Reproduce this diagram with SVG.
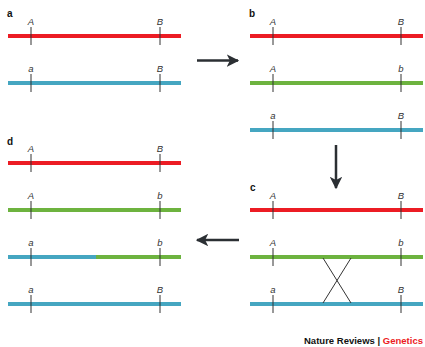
<svg xmlns="http://www.w3.org/2000/svg" width="425" height="347" viewBox="0 0 425 347">
  <style>
    .chr { stroke-width: 4; fill: none; }
    .red { stroke: #ec1c24; }
    .green { stroke: #6db33f; }
    .blue { stroke: #45a6c1; }
    .tick { stroke: #333; stroke-width: 1; }
    .allele { font-family: "Liberation Sans", Arial, sans-serif; font-style: italic; font-size: 9.5px; fill: #333; text-anchor: middle; }
    .panel { font-family: "Liberation Sans", Arial, sans-serif; font-weight: bold; font-size: 10px; fill: #111; }
    .arrow { stroke: #2b2f33; stroke-width: 2.5; fill: none; }
    .credit { font-family: "Liberation Sans", Arial, sans-serif; font-weight: bold; font-size: 9.5px; }
  </style>
  <defs>
    <marker id="head" viewBox="0 0 10 10" refX="9" refY="5" markerWidth="5" markerHeight="5" markerUnits="strokeWidth" orient="auto">
      <path d="M0,0 L10,5 L0,10 L2.5,5 Z" fill="#2b2f33"/>
    </marker>
  </defs>

  <!-- panel a -->
  <g id="panel-a">
    <text class="panel" x="7" y="17">a</text>
    <g id="a-chr1">
      <line class="chr red" x1="8" y1="36" x2="181" y2="36"/>
      <line class="tick" x1="31" y1="27" x2="31" y2="45"/>
      <line class="tick" x1="160" y1="27" x2="160" y2="45"/>
      <text class="allele" x="31" y="25">A</text>
      <text class="allele" x="160" y="25">B</text>
    </g>
    <g id="a-chr2">
      <line class="chr blue" x1="8" y1="83" x2="181" y2="83"/>
      <line class="tick" x1="31" y1="74" x2="31" y2="92"/>
      <line class="tick" x1="160" y1="74" x2="160" y2="92"/>
      <text class="allele" x="31" y="72">a</text>
      <text class="allele" x="160" y="72">B</text>
    </g>
  </g>

  <!-- panel b -->
  <g id="panel-b">
    <text class="panel" x="249" y="17">b</text>
    <g id="b-chr1">
      <line class="chr red" x1="250" y1="36" x2="423" y2="36"/>
      <line class="tick" x1="273" y1="27" x2="273" y2="45"/>
      <line class="tick" x1="401" y1="27" x2="401" y2="45"/>
      <text class="allele" x="273" y="25">A</text>
      <text class="allele" x="401" y="25">B</text>
    </g>
    <g id="b-chr2">
      <line class="chr green" x1="250" y1="83" x2="423" y2="83"/>
      <line class="tick" x1="273" y1="74" x2="273" y2="92"/>
      <line class="tick" x1="401" y1="74" x2="401" y2="92"/>
      <text class="allele" x="273" y="72">A</text>
      <text class="allele" x="401" y="72">b</text>
    </g>
    <g id="b-chr3">
      <line class="chr blue" x1="250" y1="130" x2="423" y2="130"/>
      <line class="tick" x1="273" y1="121" x2="273" y2="139"/>
      <line class="tick" x1="401" y1="121" x2="401" y2="139"/>
      <text class="allele" x="273" y="119">a</text>
      <text class="allele" x="401" y="119">B</text>
    </g>
  </g>

  <!-- panel c -->
  <g id="panel-c">
    <text class="panel" x="250" y="191">c</text>
    <g id="c-chr1">
      <line class="chr red" x1="250" y1="210" x2="423" y2="210"/>
      <line class="tick" x1="273" y1="201" x2="273" y2="219"/>
      <line class="tick" x1="401" y1="201" x2="401" y2="219"/>
      <text class="allele" x="273" y="199">A</text>
      <text class="allele" x="401" y="199">B</text>
    </g>
    <g id="c-chr2">
      <line class="chr green" x1="250" y1="257" x2="423" y2="257"/>
      <line class="tick" x1="273" y1="248" x2="273" y2="266"/>
      <line class="tick" x1="401" y1="248" x2="401" y2="266"/>
      <text class="allele" x="273" y="246">A</text>
      <text class="allele" x="401" y="246">b</text>
    </g>
    <g id="c-chr3">
      <line class="chr blue" x1="250" y1="304" x2="423" y2="304"/>
      <line class="tick" x1="273" y1="295" x2="273" y2="313"/>
      <line class="tick" x1="401" y1="295" x2="401" y2="313"/>
      <text class="allele" x="273" y="293">a</text>
      <text class="allele" x="401" y="293">B</text>
    </g>
    <g id="crossover">
      <line class="tick" x1="323" y1="258" x2="351" y2="303"/>
      <line class="tick" x1="351" y1="258" x2="323" y2="303"/>
    </g>
  </g>

  <!-- panel d -->
  <g id="panel-d">
    <text class="panel" x="7" y="145">d</text>
    <g id="d-chr1">
      <line class="chr red" x1="8" y1="163" x2="181" y2="163"/>
      <line class="tick" x1="31" y1="154" x2="31" y2="172"/>
      <line class="tick" x1="160" y1="154" x2="160" y2="172"/>
      <text class="allele" x="31" y="152">A</text>
      <text class="allele" x="160" y="152">B</text>
    </g>
    <g id="d-chr2">
      <line class="chr green" x1="8" y1="210" x2="181" y2="210"/>
      <line class="tick" x1="31" y1="201" x2="31" y2="219"/>
      <line class="tick" x1="160" y1="201" x2="160" y2="219"/>
      <text class="allele" x="31" y="199">A</text>
      <text class="allele" x="160" y="199">b</text>
    </g>
    <g id="d-chr3">
      <line class="chr blue" x1="8" y1="257" x2="96" y2="257"/>
      <line class="chr green" x1="96" y1="257" x2="181" y2="257"/>
      <line class="tick" x1="31" y1="248" x2="31" y2="266"/>
      <line class="tick" x1="160" y1="248" x2="160" y2="266"/>
      <text class="allele" x="31" y="246">a</text>
      <text class="allele" x="160" y="246">b</text>
    </g>
    <g id="d-chr4">
      <line class="chr blue" x1="8" y1="304" x2="181" y2="304"/>
      <line class="tick" x1="31" y1="295" x2="31" y2="313"/>
      <line class="tick" x1="160" y1="295" x2="160" y2="313"/>
      <text class="allele" x="31" y="293">a</text>
      <text class="allele" x="160" y="293">B</text>
    </g>
  </g>

  <!-- process arrows -->
  <g id="connectors">
    <line class="arrow" x1="197" y1="60.5" x2="238" y2="60.5" marker-end="url(#head)"/>
    <line class="arrow" x1="336" y1="145" x2="336" y2="188" marker-end="url(#head)"/>
    <line class="arrow" x1="239" y1="240" x2="197" y2="240" marker-end="url(#head)"/>
  </g>

  <text class="credit" x="304" y="344" textLength="119" lengthAdjust="spacingAndGlyphs"><tspan fill="#111">Nature Reviews | </tspan><tspan fill="#ec1c24">Genetics</tspan></text>
</svg>
